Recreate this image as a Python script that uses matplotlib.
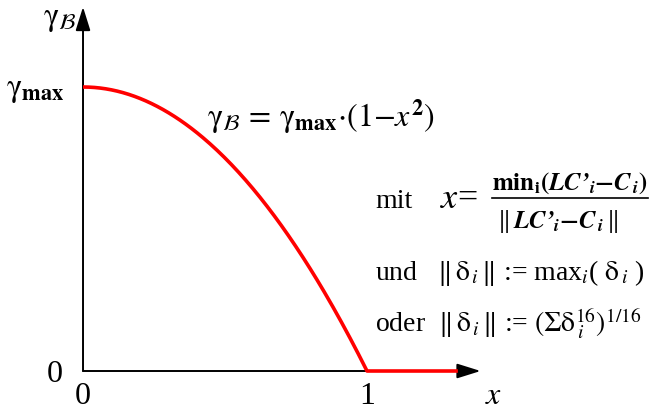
import numpy as np
import matplotlib.pyplot as plt

plt.rcParams['font.family'] = ['Liberation Serif', 'DejaVu Serif']
plt.rcParams['mathtext.fontset'] = 'stix'

# curve parameters
gamma_max = 1.0
x_cut = 1.0      # gamma reaches zero here
x_end = 1.32     # flat part runs out to here
x_tick_labels = ['0', '1']
x_tick_values = [0.0, 1.0]

x_par = np.linspace(0, x_cut, 200)
y_par = gamma_max * (1 - x_par**2)
x_curve = np.append(x_par, x_end)
y_curve = np.append(y_par, 0.0)

fig = plt.figure(figsize=(6.5, 4.1), dpi=100)
ax = fig.add_axes([0, 0, 1, 1])
ax.set_xlim(-0.2923, 1.9965)
ax.set_ylim(-0.1338, 1.3099)
ax.axis('off')

# axes with arrow heads
arrow = dict(arrowstyle='-|>,head_length=0.8,head_width=0.25', lw=1.4,
             color='black', mutation_scale=18, shrinkA=0, shrinkB=0)
ax.annotate('', xy=(1.40, 0), xytext=(0, 0), arrowprops=arrow)
ax.annotate('', xy=(0, 1.282), xytext=(0, 0), arrowprops=arrow)

ax.plot(x_curve, y_curve, color='red', lw=2.6, solid_capstyle='butt', zorder=3)

big = 23
small = 20
frac = 18

ax.text(-0.021, 1.222, r'$\mathrm{\gamma}_{\mathcal{B}}$', fontsize=big, ha='right', va='baseline')
ax.text(-0.067, 0.972, r'$\mathrm{\gamma}_{\mathbf{max}}$', fontsize=big, ha='right', va='baseline')
ax.text(-0.07, -0.035, '0', fontsize=big, ha='right', va='baseline')
for xv, lab in zip(x_tick_values, x_tick_labels):
    ax.text(xv, -0.113, lab, fontsize=big, ha='center', va='baseline')
ax.text(1.444, -0.113, r'$x$', fontsize=big, ha='center', va='baseline')

ax.text(0.437, 0.863,
        r'$\mathrm{\gamma}_{\mathcal{B}}\,=\,\mathrm{\gamma}_{\mathbf{max}}{\cdot}(1{-}x^{\mathbf{2}})$',
        fontsize=big, ha='left', va='baseline')

# definition of x
ax.text(1.028, 0.578, 'mit', fontsize=small, ha='left', va='baseline')
ax.text(1.258, 0.578, r'$x$=', fontsize=26, ha='left', va='baseline')
ax.plot([1.440, 1.989], [0.609, 0.609], color='black', lw=1.2)
ax.text(1.715, 0.641,
        r"$\mathbf{min}_{\mathbf{i}}\mathbf{(}\mathbfit{LC’}_{\mathbfit{i}}\mathbf{-}\mathbfit{C}_{\,\mathbfit{i}}\mathbf{)}$",
        fontsize=frac, ha='center', va='baseline')
ax.text(1.673, 0.507,
        r"$\Vert\,\mathbfit{LC’}_{\mathbfit{i}}\mathbf{-}\mathbfit{C}_{\,\mathbfit{i}}\,\Vert$",
        fontsize=frac, ha='center', va='baseline')

# norm variants
ax.text(1.028, 0.324,
        r'und   $\Vert\,\mathrm{\delta}_{\,i}\,\Vert$ := max$_{i}$( $\mathrm{\delta}_{\,i}$ )',
        fontsize=small, ha='left', va='baseline')
ax.text(1.028, 0.142,
        r'oder  $\Vert\,\mathrm{\delta}_{\,i}\,\Vert$ := $(\Sigma\mathrm{\delta}_{\,i}^{16})^{1/16}$',
        fontsize=small, ha='left', va='baseline')

fig.savefig('out.png', dpi=100)
